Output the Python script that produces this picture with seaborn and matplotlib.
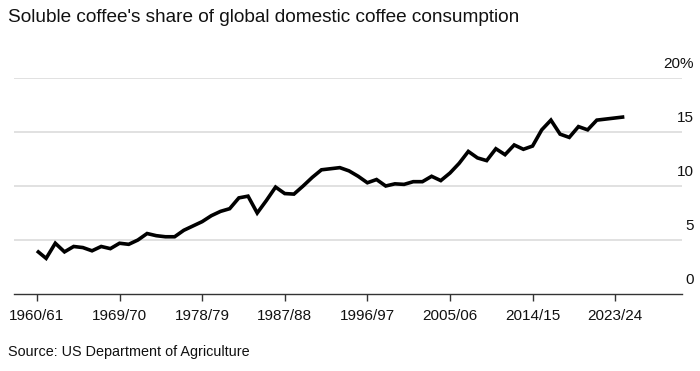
import matplotlib
matplotlib.use("Agg")
import matplotlib.pyplot as plt
import matplotlib.transforms as mtransforms
import seaborn as sns
import pandas as pd

start_years = list(range(1960, 2025))
share = [4.0, 3.3, 4.7, 3.9, 4.4, 4.3, 4.0, 4.4, 4.2, 4.7,
         4.6, 5.0, 5.6, 5.4, 5.3, 5.3, 5.9, 6.3, 6.7, 7.25,
         7.65, 7.9, 8.9, 9.06, 7.5, 8.66, 9.9, 9.3, 9.25, 10.0,
         10.8, 11.5, 11.6, 11.7, 11.4, 10.9, 10.3, 10.6, 10.0, 10.2,
         10.15, 10.4, 10.4, 10.9, 10.5, 11.2, 12.1, 13.2, 12.6, 12.35,
         13.45, 12.9, 13.8, 13.4, 13.7, 15.2, 16.1, 14.8, 14.5, 15.5,
         15.2, 16.1, 16.2, 16.3, 16.4]
tick_years = [1960, 1969, 1978, 1987, 1996, 2005, 2014, 2023]
tick_labels = ["1960/61", "1969/70", "1978/79", "1987/88",
               "1996/97", "2005/06", "2014/15", "2023/24"]
y_ticks = [0, 5, 10, 15, 20]
y_labels = ["0", "5", "10", "15", "20%"]

title = "Soluble coffee's share of global domestic coffee consumption"
source = "Source: US Department of Agriculture"

df = pd.DataFrame({"year": start_years, "share": share})

sns.set_theme(style="white")
plt.rcParams["font.family"] = ["Liberation Sans", "DejaVu Sans"]

fig = plt.figure(figsize=(7.0, 3.71), dpi=100)
ax = fig.add_axes([0.02, 1 - 294 / 371, 0.954, (294 - 78) / 371])

sns.lineplot(data=df, x="year", y="share", ax=ax, color="black",
             linewidth=2.6, solid_joinstyle="miter", solid_capstyle="butt")

ax.set_xlim(1957.5, 2030.26)
ax.set_ylim(0, 20)
ax.set_xlabel("")
ax.set_ylabel("")

for v in y_ticks[1:]:
    ax.axhline(v, color="#dcdcdc", linewidth=1.2, zorder=0)

for s in ["top", "right", "left"]:
    ax.spines[s].set_visible(False)
ax.spines["bottom"].set_color("#333333")
ax.spines["bottom"].set_linewidth(1.0)

ax.set_xticks(tick_years)
ax.set_xticklabels(tick_labels, fontsize=11, color="#111111")
ax.tick_params(axis="x", bottom=True, length=5, width=1, color="#333333",
               pad=6)

ax.set_yticks([])
trans = mtransforms.blended_transform_factory(fig.transFigure, ax.transData)
offset = mtransforms.ScaledTranslation(0, 5 / 72, fig.dpi_scale_trans)
for v, lab in zip(y_ticks, y_labels):
    ax.text(694 / 700, v, lab, transform=trans + offset, ha="right",
            va="bottom", fontsize=11, color="#111111")

fig.text(8 / 700, 1 - 17 / 371, title, fontsize=13.7, ha="left",
         va="center", color="#111111")
fig.text(8 / 700, 1 - 352 / 371, source, fontsize=10.4, ha="left",
         va="center", color="#111111")

fig.savefig("out.png", dpi=100)
